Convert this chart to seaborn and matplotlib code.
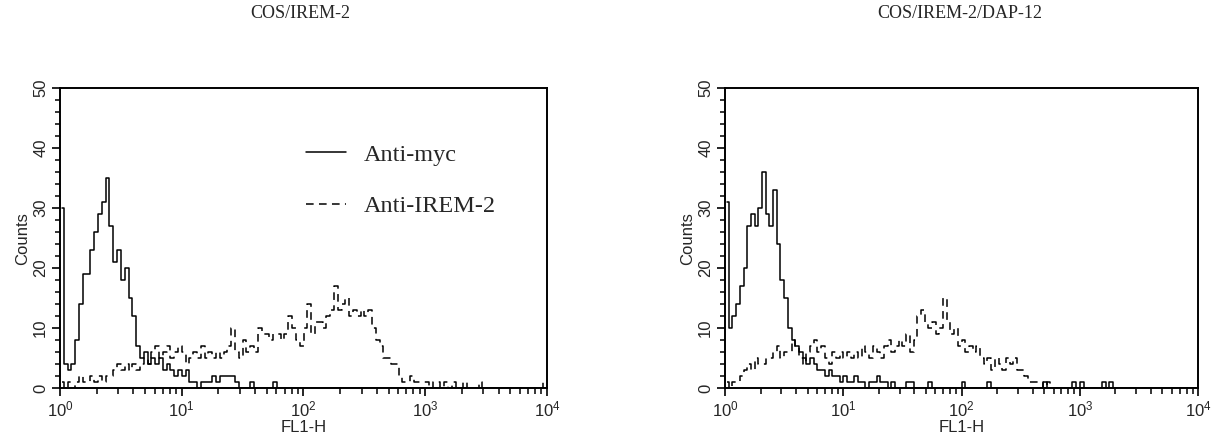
"""Flow cytometry histograms: COS/IREM-2 with and without DAP-12."""

import matplotlib.pyplot as plt
import numpy as np
import pandas as pd
import seaborn as sns
from matplotlib.ticker import FixedLocator, LogLocator, NullFormatter

plt.switch_backend('agg')

# 128 log channels over four decades (FL1-H 10^0 .. 10^4)
N_CHANNELS = 128
PANEL_TITLES = ['COS/IREM-2', 'COS/IREM-2/DAP-12']
SERIES_LABELS = ['Anti-myc', 'Anti-IREM-2']

# left panel, COS/IREM-2
irem_myc = [
    30, 4, 3, 4, 8, 14, 19, 19, 23, 26, 29, 31, 35, 27, 21, 23,
    18, 20, 15, 12, 7, 5, 6, 4, 5, 4, 5, 3, 4, 3, 2, 3,
    2, 3, 1, 1, 0, 1, 1, 1, 2, 1, 2, 2, 2, 2, 1, 0,
    0, 0, 1, 0, 0, 0, 0, 0, 1, 0, 0, 0, 0, 0, 0, 0,
    0, 0, 0, 0, 0, 0, 0, 0, 0, 0, 0, 0, 0, 0, 0, 0,
    0, 0, 0, 0, 0, 0, 0, 0, 0, 0, 0, 0, 0, 0, 0, 0,
    0, 0, 0, 0, 0, 0, 0, 0, 0, 0, 0, 0, 0, 0, 0, 0,
    0, 0, 0, 0, 0, 0, 0, 0, 0, 0, 0, 0, 0, 0, 0, 0,
]
irem_irem = [
    1, 0, 1, 0, 1, 2, 1, 1, 2, 1, 2, 1, 2, 2, 3, 4,
    3, 4, 3, 4, 3, 4, 5, 4, 6, 7, 5, 6, 7, 5, 6, 7,
    6, 4, 5, 6, 5, 7, 5, 6, 5, 6, 5, 6, 7, 10, 6, 5,
    8, 6, 7, 6, 10, 9, 9, 8, 9, 9, 8, 9, 12, 10, 8, 7,
    10, 14, 9, 11, 11, 10, 12, 13, 17, 13, 14, 15, 12, 13, 12, 13,
    12, 13, 10, 8, 7, 5, 5, 4, 4, 2, 1, 1, 2, 1, 1, 1,
    1, 0, 1, 1, 0, 1, 0, 1, 0, 0, 1, 0, 0, 0, 1, 0,
    0, 0, 0, 0, 0, 0, 0, 0, 0, 0, 0, 0, 0, 0, 0, 1,
]

# right panel, COS/IREM-2/DAP-12
dap_myc = [
    31, 10, 12, 14, 17, 20, 27, 29, 27, 30, 36, 29, 27, 33, 24, 18,
    15, 10, 8, 7, 6, 5, 4, 5, 4, 3, 3, 2, 3, 2, 2, 1,
    2, 1, 1, 2, 1, 1, 0, 1, 1, 2, 1, 1, 0, 1, 0, 0,
    0, 1, 1, 0, 0, 0, 0, 1, 0, 0, 0, 0, 0, 0, 0, 0,
    1, 0, 0, 0, 0, 0, 0, 1, 0, 0, 0, 0, 0, 0, 0, 0,
    0, 0, 0, 0, 0, 0, 1, 0, 0, 0, 0, 0, 0, 0, 1, 0,
    1, 0, 0, 0, 0, 0, 1, 0, 1, 0, 0, 0, 0, 0, 0, 0,
    0, 0, 0, 0, 0, 0, 0, 0, 0, 0, 0, 0, 0, 0, 0, 0,
]
dap_irem = [
    1, 0, 1, 1, 2, 3, 4, 3, 5, 4, 4, 5, 5, 6, 7, 5,
    6, 6, 8, 7, 5, 4, 6, 7, 8, 6, 7, 5, 4, 6, 5, 6,
    5, 6, 5, 6, 5, 7, 6, 5, 7, 6, 5, 7, 8, 6, 7, 8,
    7, 9, 6, 8, 12, 13, 11, 10, 11, 9, 10, 15, 11, 9, 10, 7,
    8, 6, 7, 6, 7, 5, 4, 5, 3, 5, 4, 3, 5, 4, 5, 3,
    3, 2, 1, 1, 1, 1, 0, 1, 0, 0, 0, 0, 0, 0, 0, 0,
    0, 0, 0, 0, 0, 0, 0, 0, 0, 0, 0, 0, 0, 0, 0, 0,
    0, 0, 0, 0, 0, 0, 0, 0, 0, 0, 0, 0, 0, 0, 0, 0,
]

PANEL_DATA = [(irem_myc, irem_irem), (dap_myc, dap_irem)]

LINE_WIDTH = 1.1
SPINE_WIDTH = 1.4
DASHES = {'Anti-myc': '', 'Anti-IREM-2': (5, 3.5)}

sns.set_theme(style='ticks')
plt.rcParams['font.family'] = ['Liberation Sans', 'DejaVu Sans']
plt.rcParams['mathtext.fontset'] = 'custom'
plt.rcParams['mathtext.rm'] = 'Liberation Sans'
plt.rcParams['mathtext.it'] = 'Liberation Sans'

channel_centres = 10 ** ((np.arange(N_CHANNELS) + 0.5) * 4.0 / N_CHANNELS)

fig = plt.figure(figsize=(12.12, 4.45), dpi=100)
axes = [fig.add_axes([0.0495, 0.128, 0.4018, 0.674]),
        fig.add_axes([0.5982, 0.128, 0.3903, 0.674])]
title_x = [300 / 1212, 960 / 1212]

for axis, title, xpos, (myc, irem) in zip(axes, PANEL_TITLES, title_x, PANEL_DATA):
    frame = pd.DataFrame({
        'fl1': np.concatenate([channel_centres, channel_centres]),
        'counts': myc + irem,
        'antibody': [SERIES_LABELS[0]] * N_CHANNELS + [SERIES_LABELS[1]] * N_CHANNELS,
    })
    sns.lineplot(data=frame, x='fl1', y='counts', style='antibody', dashes=DASHES,
                 color='black', linewidth=LINE_WIDTH, drawstyle='steps-mid',
                 estimator=None, legend=False, ax=axis)

    axis.set_xscale('log')
    axis.set_xlim(1, 10 ** 4)
    axis.set_ylim(0, 50)
    axis.xaxis.set_major_locator(FixedLocator([1, 10, 100, 1000, 10000]))
    axis.set_xticklabels([r'$10^{%d}$' % p for p in range(5)])
    axis.xaxis.set_minor_locator(LogLocator(base=10, subs=np.arange(2, 10)))
    axis.xaxis.set_minor_formatter(NullFormatter())
    axis.set_yticks(range(0, 51, 10))
    axis.set_yticks(range(0, 51, 2), minor=True)

    for spine in axis.spines.values():
        spine.set_visible(True)
        spine.set_linewidth(SPINE_WIDTH)
        spine.set_color('black')

    axis.tick_params(axis='both', which='major', direction='out', length=5.5,
                     width=1.2, color='black', labelsize=12, pad=3)
    axis.tick_params(axis='y', which='minor', direction='out', length=3.5,
                     width=1.1, color='black')
    axis.tick_params(axis='x', which='minor', direction='out', length=4.5,
                     width=1.1, color='black')
    for label in axis.get_yticklabels():
        label.set_rotation(90)
        label.set_va('center')

    axis.set_xlabel('FL1-H', fontsize=12, labelpad=0)
    axis.set_ylabel('Counts', fontsize=12, labelpad=2)

    fig.text(xpos, 1 - 13 / 445, title, ha='center', va='center',
             fontsize=13, family=['Liberation Serif', 'DejaVu Serif'])

# legend only in the left panel
handles = [plt.Line2D([], [], color='black', linewidth=LINE_WIDTH),
           plt.Line2D([], [], color='black', linewidth=LINE_WIDTH, dashes=(5, 3.5))]
legend = axes[0].legend(handles, SERIES_LABELS, loc='center left',
                        bbox_to_anchor=(0.505, 0.692), frameon=False,
                        handlelength=1.65, handletextpad=0.75, labelspacing=1.2,
                        borderpad=0, borderaxespad=0,
                        prop={'family': ['Liberation Serif', 'DejaVu Serif'], 'size': 17.5})

fig.savefig('out.png', dpi=100, facecolor='white')
